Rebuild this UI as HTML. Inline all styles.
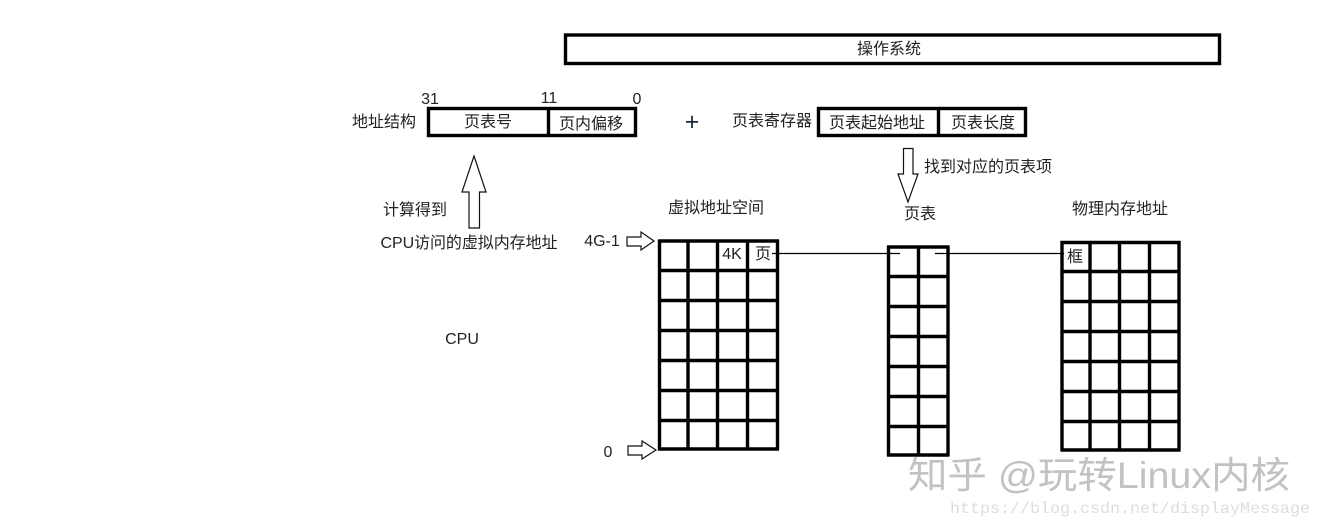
<!DOCTYPE html>
<html lang="zh"><head><meta charset="utf-8"><title>页表地址转换</title>
<style>
html,body{margin:0;padding:0;background:#fff;width:1321px;height:528px;overflow:hidden}
svg{display:block}
text{font-family:"Liberation Sans","Noto Sans CJK SC",sans-serif;font-size:16px;fill:#222;text-anchor:middle}
.b{fill:#fff;stroke:#000;stroke-width:3.4}
.g{stroke:#000;stroke-width:3.4;fill:none}
.t{stroke:#000;stroke-width:1.2;fill:none}
.a{fill:#fff;stroke:#111;stroke-width:1.2}
</style></head><body>
<svg width="1321" height="528" viewBox="0 0 1321 528" xmlns="http://www.w3.org/2000/svg">
<rect class="b" x="565.5" y="35" width="654" height="28.5"/>
<text x="889" y="54" textLength="64">操作系统</text>

<text x="430" y="104">31</text><text x="549" y="103">11</text><text x="637" y="104">0</text>
<text x="384" y="127" textLength="64">地址结构</text>
<rect class="b" x="428.5" y="108.5" width="207" height="27"/>
<path class="g" d="M548.5 108V136"/>
<text x="488" y="127" textLength="48">页表号</text>
<text x="591" y="129" textLength="64">页内偏移</text>

<text x="692" y="130" style="font-size:25px;fill:#1a2a3a">+</text>
<text x="772" y="126" textLength="80">页表寄存器</text>
<rect class="b" x="818.5" y="108.5" width="207" height="27"/>
<path class="g" d="M938.5 108V135"/>
<text x="877" y="128" textLength="96">页表起始地址</text>
<text x="983" y="128" textLength="64">页表长度</text>

<path class="a" d="M474 156L486 192H479.5V228H469V192H462Z"/>
<text x="415" y="215" textLength="64">计算得到</text>
<text x="469" y="248" textLength="177">CPU访问的虚拟内存地址</text>
<text x="462" y="344">CPU</text>

<path class="a" d="M903.5 148.5H913V174H918L908 202L898 174H903.5Z"/>
<text x="988" y="172" textLength="128">找到对应的页表项</text>
<text x="716" y="213" textLength="96">虚拟地址空间</text>
<text x="920" y="219" textLength="32">页表</text>
<text x="1120" y="214" textLength="96">物理内存地址</text>

<text x="602" y="246">4G-1</text>
<path class="a" d="M627 237H641V232L654 241L641 250V246H627Z"/>
<text x="608" y="457">0</text>
<path class="a" d="M628 446H642V441L656 450L642 459V455H628Z"/>

<path class="g" d="M659.5 240V449.5M688 240V449.5M717.5 240V449.5M747.5 240V449.5M777.5 240V449.5M658 241H779M658 270.5H779M658 300.5H779M658 330.5H779M658 360.5H779M658 390.5H779M658 420.5H779M658 449H779"/>
<text x="732" y="259">4K</text>
<text x="763" y="259">页</text>

<path class="g" d="M888.5 246V456M918.5 246V456M948 246V456M887 247H949.5M887 276.5H949.5M887 306.5H949.5M887 336.5H949.5M887 366.5H949.5M887 396.5H949.5M887 426.5H949.5M887 455H949.5"/>

<path class="g" d="M1062 241V451M1090 241V451M1119.5 241V451M1149.5 241V451M1179 241V451M1060.5 242.5H1180.5M1060.5 271.5H1180.5M1060.5 301.5H1180.5M1060.5 331.5H1180.5M1060.5 361.5H1180.5M1060.5 391.5H1180.5M1060.5 421.5H1180.5M1060.5 450H1180.5"/>
<text x="1075" y="262">框</text>

<path class="t" d="M772 253.5H900M935 253.5H1064"/>

<text x="1099" y="488" textLength="382" lengthAdjust="spacingAndGlyphs" style="font-size:37px;fill:#c2c2c2">知乎 @玩转Linux内核</text>
<text x="1130" y="513" textLength="360" lengthAdjust="spacingAndGlyphs" style="font-family:'Liberation Mono',monospace;font-size:16px;fill:#ddd">https://blog.csdn.net/displayMessage</text>
</svg>
</body></html>
